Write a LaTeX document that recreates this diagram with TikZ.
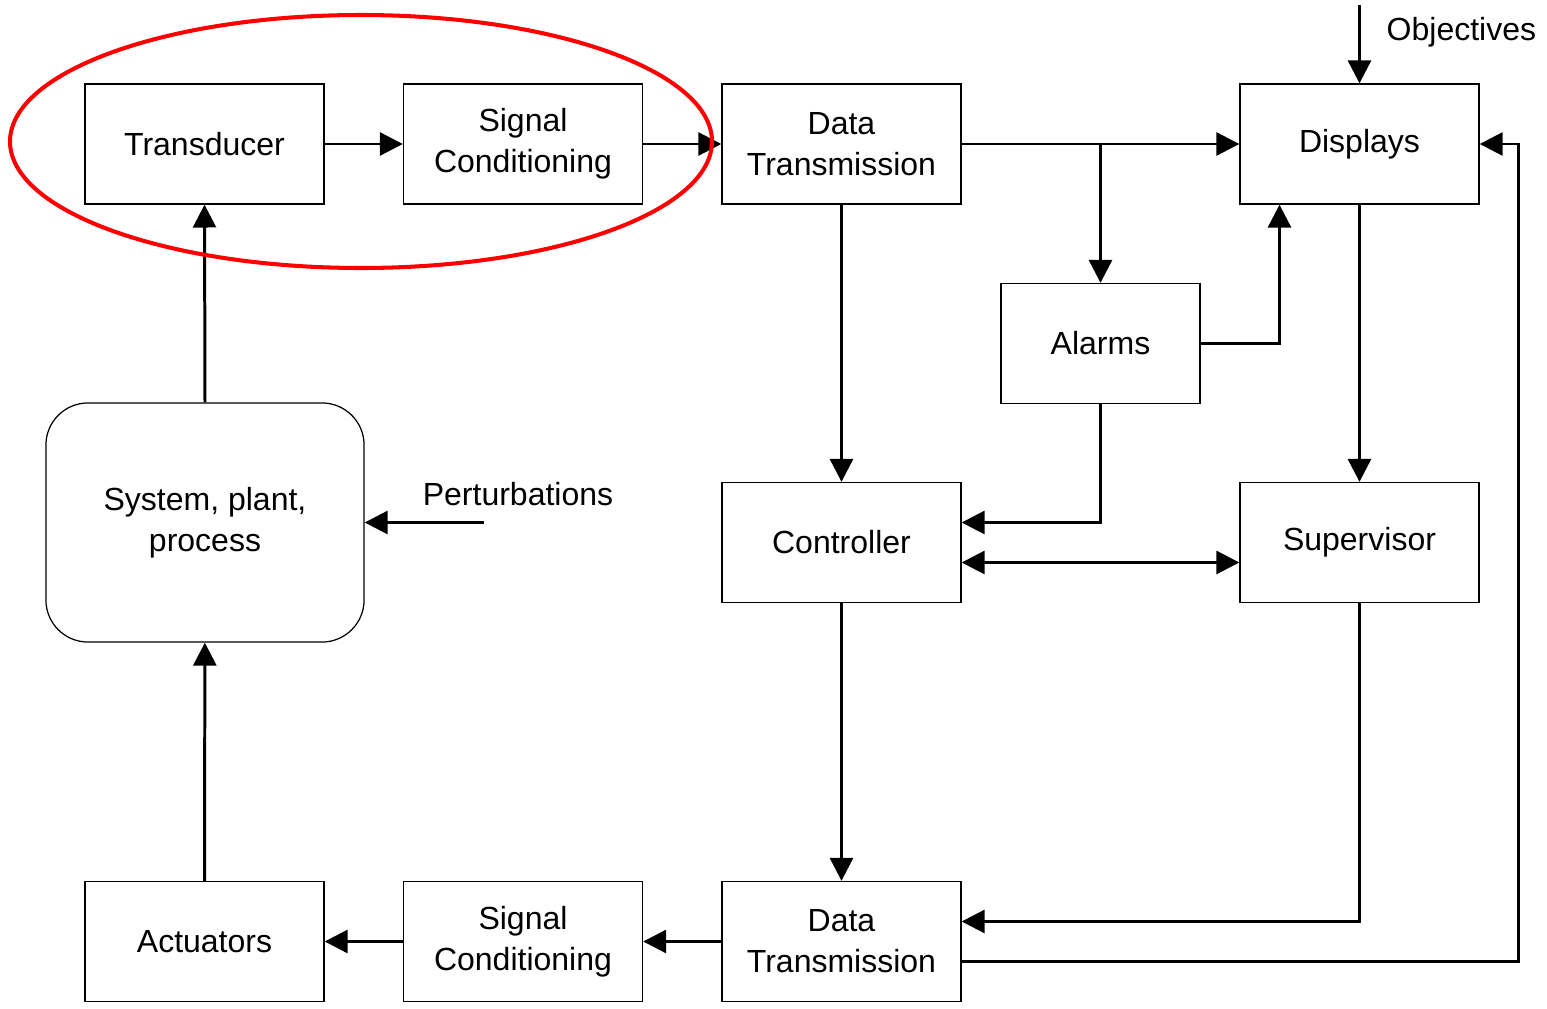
\documentclass[tikz,border=0pt]{standalone}
\usepackage{fontspec}
\setmainfont{Liberation Sans}
\usetikzlibrary{positioning, arrows.meta, calc}

\begin{document}
\begin{tikzpicture}[x=0.01cm, y=-0.01cm,
    block/.style={draw, line width=0.35pt, minimum width=2.39cm, minimum height=1.2cm,
                  inner sep=0pt, align=center, font=\fontsize{9.1}{11.7}\selectfont},
    plant/.style={block, rounded corners=12pt, minimum width=3.18cm, minimum height=2.39cm},
    lbl/.style={inner sep=0pt, font=\fontsize{9.1}{11.7}\selectfont},
    arr/.style={line width=0.85pt, -{Triangle[length=6.5pt, width=6.5pt]}},
    dbl/.style={line width=0.85pt, {Triangle[length=6.5pt, width=6.5pt]}-{Triangle[length=6.5pt, width=6.5pt]}},
    wire/.style={line width=0.85pt}]
    \useasboundingbox (0,0) rectangle (1547,1009);

    % top row
    \node[block] (tr) at (204.5,144) {Transducer};
    \node[block] (sc1) at (523,144) {Signal\\Conditioning};
    \node[block] (dt1) at (841.5,144) {Data\\Transmission};
    \node[block] (disp) at (1359.5,144) {Displays};
    % middle
    \node[block, minimum width=1.99cm] (al) at (1100.5,343.5) {Alarms};
    \node[plant] (sys) at (205,522.5) {System, plant,\\process};
    \node[block] (ctrl) at (841.5,542.5) {Controller};
    \node[block] (sup) at (1359.5,542.5) {Supervisor};
    % bottom row
    \node[block] (act) at (204.5,941.5) {Actuators};
    \node[block] (sc2) at (523,941.5) {Signal\\Conditioning};
    \node[block] (dt2) at (841.5,941.5) {Data\\Transmission};

    % external inputs
    \node[lbl, anchor=west] (obj) at (1386,32) {Objectives};
    \node[lbl] (pert) at (518,494) {Perturbations};
    \coordinate (objin) at (1359.5,5);
    \coordinate (pertin) at (484,522.5);
    \coordinate (split) at (1100.5,144);

    % measurement path
    \draw[arr] (sys.north) -- (tr.south);
    \draw[arr] (tr) -- (sc1);
    \draw[arr] (sc1) -- (dt1);
    \draw[arr] (dt1) -- (disp);
    \draw[arr] (split) -- (al.north);
    \draw[arr] (al.east) -| ($(disp.south)+(-80,0)$);
    \draw[arr] (objin) -- (disp.north);
    \draw[arr] (pertin) -- (sys.east);

    % control path
    \draw[arr] (dt1) -- (ctrl);
    \draw[arr] (disp) -- (sup);
    \draw[arr] (al.south) |- ($(ctrl.east)+(0,-20)$);
    \draw[dbl] ($(ctrl.east)+(0,20)$) -- ($(sup.west)+(0,20)$);
    \draw[arr] (ctrl) -- (dt2);
    \draw[arr] (sup.south) |- ($(dt2.east)+(0,-20)$);
    \draw[arr] ($(dt2.east)+(0,20)$) -| (1518.5,144) -- (disp.east);
    \draw[arr] (dt2) -- (sc2);
    \draw[arr] (sc2) -- (act);
    \draw[arr] (act) -- (sys);

    % highlighted sensing stage
    \draw[red, line width=1.15pt] (361,141.5) ellipse [x radius=351, y radius=126.5];
\end{tikzpicture}
\end{document}
